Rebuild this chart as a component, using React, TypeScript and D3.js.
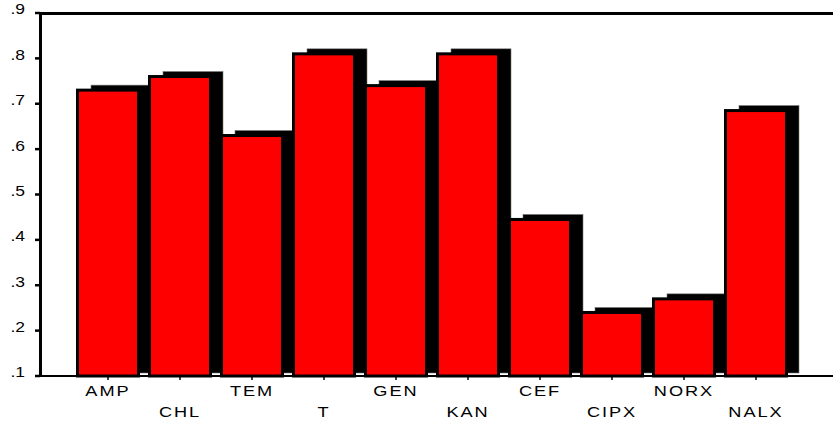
import React from 'react';
import * as d3 from 'd3';

// Data

const categories = ['AMP', 'CHL', 'TEM', 'T', 'GEN', 'KAN', 'CEF', 'CIPX', 'NORX', 'NALX'];
const values = [0.73, 0.76, 0.63, 0.81, 0.74, 0.81, 0.445, 0.24, 0.27, 0.685];
const yTicks = [0.1, 0.2, 0.3, 0.4, 0.5, 0.6, 0.7, 0.8, 0.9];

const width = 833;
const height = 422;
const left = 40;
const top = 13;
const bottom = 376;

const x = d3.scaleBand<string>().domain(categories).range([72, 792]).paddingInner(0.11).paddingOuter(0.055);
const y = d3.scaleLinear().domain([0.1, 0.9]).range([bottom, top]);

const fmt = (v: number) => d3.format('.1f')(v).replace(/^0/, '');

function Chart() {
    const step = x.step();
    const barW = 64;
    const font = '"Liberation Sans", Arial, sans-serif';

    return (
        <svg width={width} height={height} style={{ position: 'absolute', left: 0, top: 0, background: '#fff' }}>
            {/* shadows */}
            <g>
                {categories.map((c, i) => {
                    const cx = (x(c) as number) + x.bandwidth() / 2;
                    const yt = y(values[i]) - 5;
                    return (
                        <rect key={c} x={cx - 17} y={yt} width={60} height={bottom - 3 - yt}
                            fill="#000" stroke="#777" strokeWidth={0.6} />
                    );
                })}
            </g>
            {/* bars */}
            <g>
                {categories.map((c, i) => {
                    const cx = (x(c) as number) + x.bandwidth() / 2;
                    const yt = y(values[i]);
                    return (
                        <rect key={c} x={cx - barW / 2 + 1.5} y={yt} width={barW - 3} height={bottom - yt}
                            fill="#ff0000" stroke="#000" strokeWidth={3} />
                    );
                })}
            </g>
            {/* frame */}
            <line x1={left} x2={width + 5} y1={top + 0.5} y2={top + 0.5} stroke="#000" strokeWidth={3} />
            <line x1={left + 0.5} x2={left + 0.5} y1={top - 1} y2={bottom + 1} stroke="#000" strokeWidth={3} />
            <line x1={left} x2={width + 5} y1={bottom} y2={bottom} stroke="#000" strokeWidth={2} />
            {/* y ticks */}
            {yTicks.map((t) => (
                <g key={t}>
                    <line x1={35} x2={40} y1={y(t)} y2={y(t)} stroke="#000" strokeWidth={2.5} />
                    <text x={25} y={y(t)} dy="0.1em" textAnchor="end" fontFamily={font} fontSize={14}
                        transform={`translate(25,0) scale(1.25,1) translate(-25,0)`}>
                        {fmt(t)}
                    </text>
                </g>
            ))}
            {/* x ticks and labels */}
            {categories.map((c, i) => {
                const cx = (x(c) as number) + x.bandwidth() / 2;
                const ly = i % 2 === 0 ? 396 : 417;
                return (
                    <g key={c}>
                        <line x1={cx} x2={cx} y1={bottom} y2={380} stroke="#000" strokeWidth={1.5} />
                        <text x={0} y={0} textAnchor="middle" fontFamily={font} fontSize={14} letterSpacing={1.5}
                            transform={`translate(${cx},${ly}) scale(1.3,1)`}>
                            {c}
                        </text>
                    </g>
                );
            })}
        </svg>
    );
}

export default function App() {
    return <Chart />;
}
